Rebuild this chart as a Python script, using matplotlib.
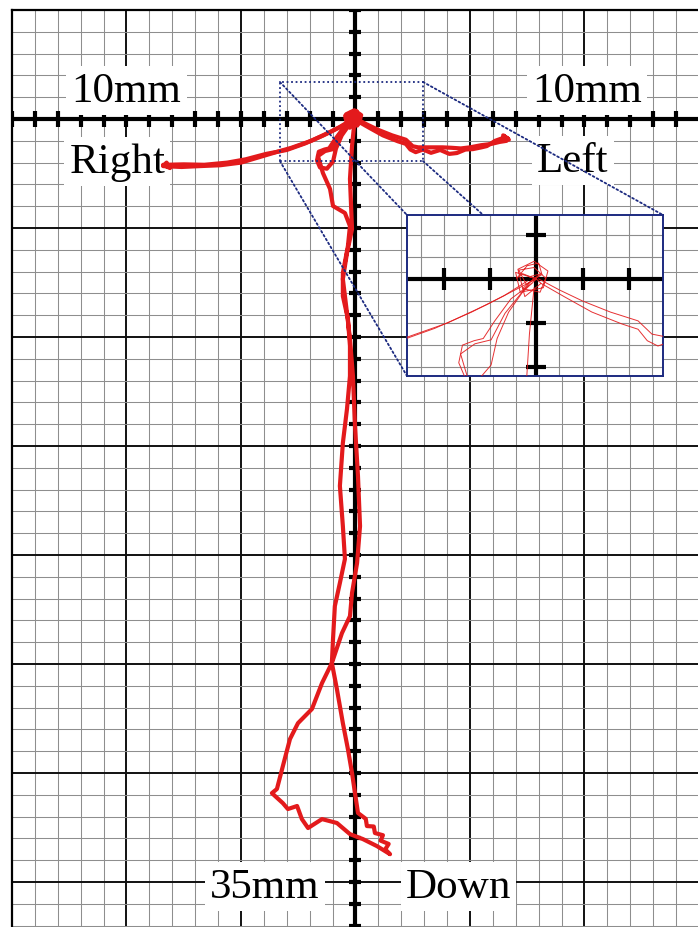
import numpy as np
import matplotlib.pyplot as plt
from matplotlib.patches import Rectangle, ConnectionPatch

# displacement traces in mm (x: +left / -right, y: down is negative)
right_out_x = [0.0, -0.5, -1.07, -1.93, -2.8, -3.4, -4.2, -5.0, -5.9, -6.8, -7.6, -8.4, -8.25, -8.1, -8.4]
right_out_y = [0.0, -0.27, -0.58, -1.0, -1.32, -1.5, -1.75, -2.0, -2.12, -2.16, -2.2, -2.16, -2.0, -2.25, -2.1]
right_back_x = [-8.3, -7.5, -6.6, -5.6, -4.8, -3.9, -3.0, -2.2, -1.4, -0.7, -0.2]
right_back_y = [-2.1, -2.08, -2.1, -2.0, -1.85, -1.6, -1.42, -1.12, -0.75, -0.38, -0.05]

left_out_x = [0.1, 0.6, 1.2, 1.85, 2.2, 2.4, 2.63, 2.95, 3.3, 3.7, 4.1, 4.43, 4.8, 5.13, 5.5, 5.74, 6.1, 6.5, 6.66, 6.45, 6.7]
left_out_y = [-0.1, -0.4, -0.75, -1.02, -1.14, -1.4, -1.52, -1.4, -1.55, -1.42, -1.6, -1.56, -1.4, -1.38, -1.3, -1.24, -1.0, -0.85, -0.9, -0.75, -0.95]
left_back_x = [6.6, 6.3, 5.9, 5.5, 5.0, 4.6, 4.2, 3.8, 3.3, 2.74, 2.5, 2.2, 1.6, 1.0, 0.5, 0.05]
left_back_y = [-1.0, -1.05, -1.15, -1.2, -1.3, -1.35, -1.32, -1.3, -1.3, -1.3, -1.25, -0.95, -0.75, -0.5, -0.25, 0.0]

scrib_x = [0.0, -0.3, -0.42, -0.2, 0.05, 0.12, -0.22, -0.38, -0.05, 0.2, 0.08, -0.3, -0.12, 0.1, -0.15, 0.0,
           -0.45, -0.35, 0.15, 0.25, -0.05, -0.4, -0.25, 0.1, 0.0]
scrib_y = [0.0, 0.12, 0.02, 0.3, 0.36, 0.1, -0.12, 0.2, 0.26, 0.02, -0.3, -0.22, -0.05, 0.12, 0.05, 0.0,
           0.15, -0.3, -0.2, 0.18, 0.4, 0.22, -0.4, -0.1, 0.0]

hook_x = [-0.1, -0.55, -0.9, -1.15, -1.35, -1.6, -1.68, -1.55, -1.25, -0.98, -0.85, -0.6, -0.3, 0.0]
hook_y = [-0.1, -0.45, -0.95, -1.35, -1.4, -1.5, -1.9, -2.22, -2.28, -1.95, -1.35, -0.75, -0.3, 0.0]

down_x = [-0.05, -0.15, -0.24, -0.15, -0.37, -0.55, -0.37, -0.24, -0.11, -0.02, 0.11, 0.20, 0.07,
          -0.15, -0.24, -0.59, -1.03, -1.46, -1.90, -2.51, -2.86, -3.17, -3.43, -3.65, -3.17, -2.95,
          -2.55, -2.34, -2.07, -1.46, -0.81, -0.24, 0.33, 0.94, 1.51,
          1.30, 1.45, 1.10, 1.20, 0.85, 0.80, 0.50, 0.45, 0.11, -0.02, -0.15, -0.33, -0.55, -0.81,
          -1.03, -0.98, -0.90, -0.68, -0.46, -0.55, -0.68, -0.55, -0.37, -0.24, -0.24, -0.33, -0.55,
          -0.55, -0.33, -0.24, -0.46, -0.98, -1.11, -1.42, -1.55, -1.64, -1.33, -0.98, -0.68, -0.15]
down_y = [-0.2, -1.24, -2.75, -5.05, -6.15, -7.34, -8.90, -10.09, -11.79, -14.08, -16.38, -18.67, -20.37,
          -21.74, -22.80, -23.58, -24.95, -25.87, -27.06, -27.71, -28.44, -29.68, -30.73, -30.92, -31.38, -31.65,
          -31.51, -32.11, -32.52, -32.11, -32.29, -32.80, -33.03, -33.35, -33.72,
          -33.50, -33.25, -33.10, -32.85, -32.75, -32.45, -32.43, -32.10, -31.83, -30.92, -30.00, -28.90, -27.71, -26.15,
          -24.95, -23.85, -22.34, -21.28, -20.18, -18.67, -16.83, -14.86, -13.30, -11.79, -10.41, -9.17, -8.12,
          -7.06, -5.83, -4.91, -4.31, -3.99, -3.21, -2.48, -2.02, -1.70, -1.47, -1.38, -0.78, -0.09]

traces = [(right_out_x, right_out_y), (right_back_x, right_back_y),
          (left_out_x, left_out_y), (left_back_x, left_back_y),
          (scrib_x, scrib_y), (hook_x, hook_y), (down_x, down_y)]

# zoomed window drawn on the main grid
zoom_box = (-3.3, -1.93, 2.95, 1.7)

labels = [("10mm", -10.0, 0.83), ("10mm", 10.1, 0.83),
          ("Right", -10.4, -2.43), ("Left", 9.5, -2.39),
          ("35mm", -3.95, -35.69), ("Down", 4.5, -35.69)]

RED = '#e31a1c'
NAVY = '#1c2a80'

fig = plt.figure(figsize=(6.98, 9.28), dpi=100)
ax = fig.add_axes([12 / 698, 0, 686 / 698, 917 / 928])
ax.set_xlim(-15, 14.96)
ax.set_ylim(-37.06, 5.0)

# graph paper: 1 mm fine lines, 5 mm heavy lines
for v in np.arange(-15, 15):
    major = v % 5 == 0
    ax.axvline(v, color='#111111' if major else '#8e8e8e', lw=1.4 if major else 0.75, zorder=0)
for h in np.arange(-37, 6):
    major = h % 5 == 0
    ax.axhline(h, color='#111111' if major else '#8e8e8e', lw=1.4 if major else 0.75, zorder=0)

ax.axhline(0, color='k', lw=3, zorder=2)
ax.axvline(0, color='k', lw=3, zorder=2)
xt = np.arange(-15, 15)
yt = np.arange(-37, 6)
ax.plot(xt, np.zeros_like(xt), ls='none', marker='|', ms=11, mew=3, color='k', zorder=2)
ax.plot(np.zeros_like(yt), yt, ls='none', marker='_', ms=9, mew=3, color='k', zorder=2)

ax.set_xticks([])
ax.set_yticks([])
for s in ['right', 'bottom']:
    ax.spines[s].set_visible(False)
for s in ['top', 'left']:
    ax.spines[s].set_linewidth(1.6)

for txt, x, y in labels:
    ax.text(x, y, txt, fontsize=31, family='Liberation Serif', ha='center', va='baseline',
            bbox=dict(boxstyle='square,pad=0.12', fc='white', ec='none'), zorder=3)

for xs, ys in traces:
    ax.plot(xs, ys, color=RED, lw=3.0, solid_joinstyle='round', solid_capstyle='round', zorder=4)

x0, y0, x1, y1 = zoom_box
ax.add_patch(Rectangle((x0, y0), x1 - x0, y1 - y0, fill=False, ec=NAVY, lw=1.3,
                       ls=(0, (1, 1.5)), zorder=5))

# inset with the cluster around the origin
axins = fig.add_axes([407 / 698, 1 - 377 / 928, 256 / 698, 161 / 928])
axins.set_xlim(-2.8, 2.74)
axins.set_ylim(-2.2, 1.45)
for v in np.arange(-2.5, 3.0, 0.5):
    axins.axvline(v, color='#8c8c8c', lw=0.8, zorder=0)
for h in np.arange(-2.0, 1.5, 0.5):
    axins.axhline(h, color='#8c8c8c', lw=0.8, zorder=0)
axins.axhline(0, color='k', lw=3, zorder=2)
axins.axvline(0, color='k', lw=3, zorder=2)
ixt = [-2, -1, 1, 2]
iyt = [1, -1, -2]
axins.plot(ixt, np.zeros(len(ixt)), ls='none', marker='|', ms=16, mew=3, color='k', zorder=2)
axins.plot(np.zeros(len(iyt)), iyt, ls='none', marker='_', ms=14, mew=3, color='k', zorder=2)
for xs, ys in traces:
    axins.plot(xs, ys, color=RED, lw=0.7, alpha=0.9, zorder=4)
axins.set_xticks([])
axins.set_yticks([])
for s in axins.spines.values():
    s.set_color(NAVY)
    s.set_linewidth(1.4)

for (cx, cy), (ix, iy) in [((x0, y1), (0, 1)), ((x1, y1), (1, 1)),
                           ((x0, y0), (0, 0)), ((x1, y0), (1, 0))]:
    con = ConnectionPatch(xyA=(cx, cy), coordsA=ax.transData, xyB=(ix, iy), coordsB=axins.transAxes,
                          color=NAVY, lw=1.3, ls=(0, (1, 1.5)), zorder=5)
    ax.add_artist(con)

fig.savefig('out.png', dpi=100)
